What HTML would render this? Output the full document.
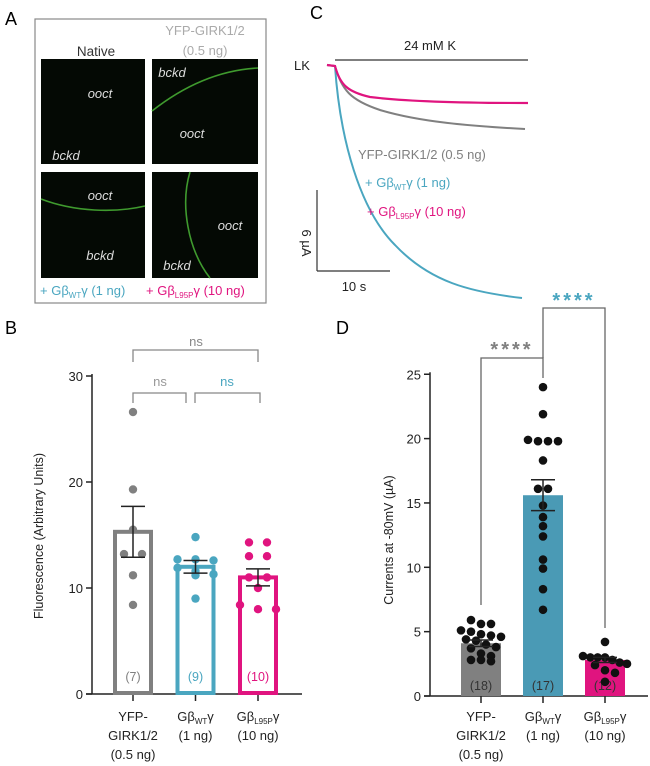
<!DOCTYPE html>
<html><head><meta charset="utf-8"><style>
body{margin:0;background:#fff;}
svg{display:block;font-family:"Liberation Sans",Arial,sans-serif;}
</style></head><body>
<svg id="fig" width="650" height="766" viewBox="0 0 650 766">
<g>
<text x="5" y="25" font-size="18">A</text>
<rect x="35" y="19" width="231" height="284" fill="#fff" stroke="#888" stroke-width="1.2"/>
<text x="205" y="35" font-size="13" fill="#aaa" text-anchor="middle">YFP-GIRK1/2</text>
<text x="205" y="55" font-size="13" fill="#aaa" text-anchor="middle">(0.5 ng)</text>
<text x="96" y="56" font-size="13.5" fill="#333" text-anchor="middle">Native</text>
<rect x="41" y="59" width="104" height="105" fill="#040904"/>
<rect x="152" y="59" width="106" height="105" fill="#040904"/>
<rect x="41" y="172" width="104" height="106" fill="#040904"/>
<rect x="152" y="172" width="106" height="106" fill="#040904"/>
<path d="M152,111 C185,85 220,70 258,68" stroke="#3f9a2e" stroke-width="1.6" fill="none"/>
<path d="M41,199 C75,212 115,213 145,206" stroke="#3f9a2e" stroke-width="1.6" fill="none"/>
<path d="M190,172 C180,205 188,250 210,278" stroke="#3f9a2e" stroke-width="1.6" fill="none"/>
<g font-size="13" fill="#ddd" font-style="italic" text-anchor="middle">
<text x="100" y="98">ooct</text><text x="66" y="160">bckd</text>
<text x="172" y="77">bckd</text><text x="192" y="138">ooct</text>
<text x="100" y="200">ooct</text><text x="100" y="260">bckd</text>
<text x="230" y="230">ooct</text><text x="177" y="270">bckd</text>
</g>
<text x="40" y="295" font-size="13" fill="#4aa6c0">+ Gβ<tspan font-size="8" dy="3">WT</tspan><tspan dy="-3">γ (1 ng)</tspan></text>
<text x="146" y="295" font-size="13" fill="#e0147f">+ Gβ<tspan font-size="8" dy="3">L95P</tspan><tspan dy="-3">γ (10 ng)</tspan></text>
</g>
<g>
<text x="310" y="19" font-size="18">C</text>
<text x="430" y="50" font-size="13" text-anchor="middle" fill="#222">24 mM K</text>
<line x1="335" y1="60" x2="528" y2="60" stroke="#333" stroke-width="1.2"/>
<text x="302" y="70" font-size="13" fill="#222" text-anchor="middle">LK</text>
<path d="M327,65 L335,66 C340,140 360,210 395,245 C430,282 470,292 522,298" stroke="#4aa6c0" stroke-width="2" fill="none"/>
<path d="M327,65 L335,66 C342,90 350,100 380,110 C420,122 470,126 525,129" stroke="#808080" stroke-width="2" fill="none"/>
<path d="M327,65 L335,66 C340,85 348,92 370,97 C410,102 470,103 528,103" stroke="#e0147f" stroke-width="2.2" fill="none"/>
<line x1="317" y1="190" x2="317" y2="271" stroke="#333" stroke-width="1.2"/>
<line x1="317" y1="271" x2="390" y2="271" stroke="#333" stroke-width="1.2"/>
<text transform="translate(302,243) rotate(90)" font-size="13" text-anchor="middle" fill="#222">6 µA</text>
<text x="354" y="291" font-size="13" text-anchor="middle" fill="#222">10 s</text>
<text x="358" y="159" font-size="13" fill="#808080">YFP-GIRK1/2 (0.5 ng)</text>
<text x="365" y="187" font-size="13" fill="#4aa6c0">+ Gβ<tspan font-size="8" dy="3">WT</tspan><tspan dy="-3">γ (1 ng)</tspan></text>
<text x="367" y="216" font-size="13" fill="#e0147f">+ Gβ<tspan font-size="8" dy="3">L95P</tspan><tspan dy="-3">γ (10 ng)</tspan></text>
</g>
<text x="5" y="334" font-size="18">B</text>
<text x="336" y="334" font-size="18">D</text>
<g id="chartB"></g>
<g id="chartD"></g>
</svg>
<script>
const NS="http://www.w3.org/2000/svg";
const groups=["YFP-GIRK1/2","GβWTγ","GβL95Pγ"];
const colors=["#808080","#4aa6c0","#e0147f"];
const nLabels=["(7)","(9)","(10)"];
const bMeans=[15.3,12.0,11.0];
const bSem=[2.4,0.6,0.8];
const bPts0=[26.6,19.3,15.5,13.2,13.2,11.2,8.4];
const bPts1=[14.8,12.7,12.6,12.7,11.9,11.6,11.3,11.2,9.0];
const bPts2=[14.3,14.3,13.0,13.0,11.0,11.0,10.0,8.4,8.0,8.0];
const bTicks=[0,10,20,30];
const dMeans=[4.1,15.6,2.8];
const dSem=[0.25,1.2,0.2];
const dPts0=[5.9,5.6,5.6,5.1,5.0,4.8,4.7,4.6,4.4,4.3,4.0,3.8,3.7,3.3,3.1,2.8,2.7,2.8];
const dPts1=[24.0,21.9,19.8,19.8,19.8,19.9,18.3,16.1,16.1,14.8,13.9,13.2,12.4,10.6,9.9,8.3,6.7];
const dPts2=[4.2,3.1,3.0,3.0,3.0,2.8,2.6,2.5,2.4,2.0,1.8,1.1];
const dNLabels=["(18)","(17)","(12)"];
const dTicks=[0,5,10,15,20,25];
function el(p,t,a){const e=document.createElementNS(NS,t);for(const k in a)e.setAttribute(k,a[k]);p.appendChild(e);return e;}
function swarm(vals,y,gap,step,maxw){
  const idx=vals.map((v,i)=>i).sort((a,b)=>vals[b]-vals[a]);
  const off=new Array(vals.length).fill(0);
  let cl=[];
  const flush=()=>{const n=cl.length;const s=n>1?Math.min(step,maxw/(n-1)):0;
    cl.forEach((k,j)=>off[k]=(j-(n-1)/2)*s);cl=[];};
  idx.forEach(k=>{ if(cl.length&&Math.abs(y(vals[k])-y(vals[cl[0]]))>gap) flush(); cl.push(k);});
  flush();return off;
}
function xlabels(g,cx,y){
  const l=[["YFP-","GIRK1/2","(0.5 ng)"],["Gβ|WT|γ","(1 ng)"],["Gβ|L95P|γ","(10 ng)"]];
  l.forEach((lines,i)=>lines.forEach((s,j)=>{
    const t=el(g,"text",{x:cx(i),y:y+j*19,"font-size":13,"text-anchor":"middle",fill:"#222"});
    
    
    if(s.includes("|")){const p=s.split("|");t.textContent=p[0];const s1=el(t,"tspan",{"font-size":8,dy:3});s1.textContent=p[1];const s2=el(t,"tspan",{dy:-3});s2.textContent=p[2];}
    else t.textContent=s;
  }));
}
(function(){
 const g=document.getElementById("chartB");
 const y0=694,ppu=10.6,ax=92;
 const y=v=>y0-v*ppu, cx=i=>133+i*62.5;
 const pts=[bPts0,bPts1,bPts2];
 el(g,"line",{x1:ax,y1:y(30)-2,x2:ax,y2:y0,stroke:"#222","stroke-width":1.5});
 el(g,"line",{x1:ax-6,y1:y0,x2:302,y2:y0,stroke:"#222","stroke-width":1.5});
 bTicks.forEach(t=>{el(g,"line",{x1:ax-6,y1:y(t),x2:ax,y2:y(t),stroke:"#222","stroke-width":1.5});
  const tx=el(g,"text",{x:ax-9,y:y(t)+5,"font-size":13,"text-anchor":"end",fill:"#222"});tx.textContent=t;
  });
 const yl=el(g,"text",{transform:"translate(43,536) rotate(-90)","font-size":12.5,"text-anchor":"middle",fill:"#222"});yl.textContent="Fluorescence (Arbitrary Units)";
 
 groups.forEach((gname,i)=>{
  el(g,"line",{x1:cx(i),y1:y0,x2:cx(i),y2:y0+7,stroke:"#222","stroke-width":1.5});
  const b=el(g,"rect",{x:cx(i)-18,y:y(bMeans[i]),width:36,height:y0-y(bMeans[i])-1,fill:"#fff",stroke:colors[i],"stroke-width":4});
  
  const off=swarm(pts[i],y,7,18,38);
  pts[i].forEach((v,j)=>{
   const c=el(g,"circle",{cx:cx(i)+off[j],cy:y(v),r:4.2,fill:colors[i]});
   });
  const hi=y(bMeans[i]+bSem[i]),lo=y(bMeans[i]-bSem[i]);
  el(g,"path",{d:`M${cx(i)},${hi}V${lo}M${cx(i)-12},${hi}H${cx(i)+12}M${cx(i)-12},${lo}H${cx(i)+12}`,stroke:"#222","stroke-width":1.5,fill:"none"});
  const n=el(g,"text",{x:cx(i),y:y0-13,"font-size":12.5,"text-anchor":"middle",fill:colors[i]});n.textContent=nLabels[i];
  
 });
 el(g,"path",{d:"M133,362V350H258V362",stroke:"#888","stroke-width":1.3,fill:"none"});
 el(g,"path",{d:"M133,403V393H186V403M195,403V393H260V403",stroke:"#888","stroke-width":1.3,fill:"none"});
 [[196,346,"#888"],[160,386,"#999"],[227,386,"#4aa6c0"]].forEach(a=>{const t=el(g,"text",{x:a[0],y:a[1],"font-size":13,"text-anchor":"middle",fill:a[2]});t.textContent="ns";
  });
 xlabels(g,cx,721);
})();
(function(){
 const g=document.getElementById("chartD");
 const y0=696,ppu=12.87,ax=430;
 const y=v=>y0-v*ppu, cx=i=>481+i*62;
 const pts=[dPts0,dPts1,dPts2];
 const dc=["#808080","#4a9ab5","#e0147f"];
 el(g,"line",{x1:ax,y1:y(25)-2,x2:ax,y2:y0,stroke:"#222","stroke-width":1.5});
 el(g,"line",{x1:ax-6,y1:y0,x2:648,y2:y0,stroke:"#222","stroke-width":1.5});
 dTicks.forEach(t=>{el(g,"line",{x1:ax-6,y1:y(t),x2:ax,y2:y(t),stroke:"#222","stroke-width":1.5});
  const tx=el(g,"text",{x:ax-9,y:y(t)+5,"font-size":13,"text-anchor":"end",fill:"#222"});tx.textContent=t;
  });
 const yl=el(g,"text",{transform:"translate(393,540) rotate(-90)","font-size":12.5,"text-anchor":"middle",fill:"#222"});yl.textContent="Currents at -80mV (µA)";
 
 groups.forEach((gname,i)=>{
  el(g,"line",{x1:cx(i),y1:y0,x2:cx(i),y2:y0+7,stroke:"#222","stroke-width":1.5});
  const b=el(g,"rect",{x:cx(i)-20,y:y(dMeans[i]),width:40,height:y0-y(dMeans[i]),fill:dc[i]});
  
  const n=el(g,"text",{x:cx(i),y:y0-6,"font-size":12.5,"text-anchor":"middle",fill:"#333"});n.textContent=dNLabels[i];
  
  const off=swarm(pts[i],y,i===1?4:8,10,i===1?42:44);
  pts[i].forEach((v,j)=>{
   const c=el(g,"circle",{cx:cx(i)+off[j],cy:y(v),r:4.3,fill:"#111"});
   });
  const hi=y(dMeans[i]+dSem[i]),lo=y(dMeans[i]-dSem[i]);
  el(g,"path",{d:`M${cx(i)},${hi}V${lo}M${cx(i)-12},${hi}H${cx(i)+12}M${cx(i)-12},${lo}H${cx(i)+12}`,stroke:"#222","stroke-width":1.5,fill:"none"});
 });
 el(g,"path",{d:`M${cx(0)},605V358H${cx(1)}V378`,stroke:"#666","stroke-width":1.3,fill:"none"});
 el(g,"path",{d:`M${cx(1)},358V308H${cx(2)}V628`,stroke:"#666","stroke-width":1.3,fill:"none"});
 const s1=el(g,"text",{x:512,y:356,"font-size":20,"text-anchor":"middle",fill:"#808080","font-weight":"bold","letter-spacing":"3"});s1.textContent="****";
 
 const s2=el(g,"text",{x:574,y:307,"font-size":20,"text-anchor":"middle",fill:"#4aa6c0","font-weight":"bold","letter-spacing":"3"});s2.textContent="****";
 
 xlabels(g,cx,721);
})();
</script>
</body></html>
